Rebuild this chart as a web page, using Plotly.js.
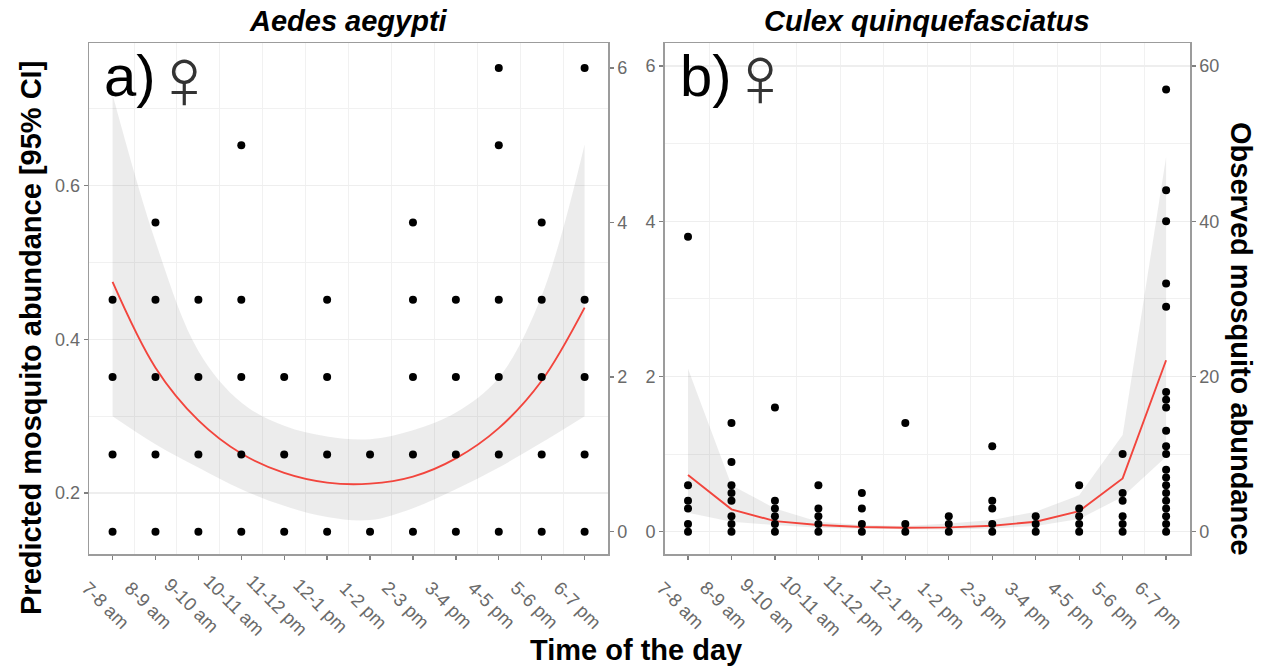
<!DOCTYPE html>
<html>
<head>
<meta charset="utf-8">
<script src="https://cdn.plot.ly/plotly-3.0.1.min.js"></script>
<style>html,body{margin:0;padding:0;background:#fff}#chart{width:1266px;height:667px}</style>
</head>
<body>
<div id="chart"></div>
<script>
const hours = ['7-8 am','8-9 am','9-10 am','10-11 am','11-12 pm','12-1 pm','1-2 pm','2-3 pm','3-4 pm','4-5 pm','5-6 pm','6-7 pm'];

// Panel a: Aedes aegypti
const aedesFit   = [0.4744,0.363,0.2945,0.2514,0.2262,0.2136,0.2123,0.2215,0.2452,0.2845,0.346,0.441];
const aedesUpper = [0.718,0.5268,0.3848,0.3177,0.2874,0.2735,0.27,0.2818,0.3047,0.35,0.4565,0.653];
const aedesLower = [0.3,0.2636,0.2333,0.205,0.1835,0.169,0.165,0.1805,0.205,0.2333,0.2657,0.3];
const aedesObserved = [[0,1,2,3],[0,1,2,3,4],[0,1,2,3],[0,1,2,3,5],[0,1,2],[0,1,2,3],[0,1],[0,1,2,3,4],[0,1,2,3],[0,1,2,3,5,6],[0,1,2,3,4],[0,1,2,3,6]];

// Panel b: Culex quinquefasciatus
const culexFit   = [0.73,0.288,0.137,0.086,0.06,0.052,0.056,0.077,0.129,0.266,0.687,2.21];
const culexUpper = [2.1,0.6,0.3,0.13,0.086,0.073,0.107,0.15,0.258,0.47,1.245,4.83];
const culexLower = [0.245,0.13,0.086,0.05,0.039,0.03,0.03,0.043,0.073,0.163,0.45,0.966];
const culexObserved = [[0,1,3,4,6,38],[0,1,2,4,5,6,9,14],[0,1,2,3,4,16],[0,1,2,3,6],[0,1,3,5],[0,1,14],[0,1,2],[0,1,3,4,11],[0,1,2],[0,1,2,3,6],[0,1,2,4,5,10],[0,1,2,3,4,5,6,7,8,10,11,13,16,17,18,29,32,40,44,57]];

const W = 1266, H = 667;
const idx = hours.map((_, i) => i);
const halves = idx.slice(0, -1).map(i => i + 0.5);
const RED = '#f2453d', RIB = 'rgba(70,70,70,0.1)', GRID = '#eeeeee', BORDER = '#9c9c9c', TXT = '#6a6a6a';
const SANS = '"Liberation Sans", Arial, sans-serif';
const yDom = [(H - 554.3) / H, (H - 43.3) / H];

function expand(obs) {
  const x = [], y = [];
  obs.forEach((vals, i) => vals.forEach(v => { x.push(i); y.push(v); }));
  return {x, y};
}
function panel(lower, upper, fit, obs, xa, yl, yr, shape) {
  const o = expand(obs);
  return [
    {x: idx, y: lower, xaxis: xa, yaxis: yl, mode: 'lines', line: {width: 0, shape: shape, smoothing: 1}, hoverinfo: 'skip', showlegend: false},
    {x: idx, y: upper, xaxis: xa, yaxis: yl, mode: 'lines', line: {width: 0, shape: shape, smoothing: 1}, fill: 'tonexty', fillcolor: RIB, hoverinfo: 'skip', showlegend: false},
    {x: idx, y: fit, xaxis: xa, yaxis: yl, mode: 'lines', line: {color: RED, width: 1.9, shape: shape, smoothing: 1}, showlegend: false},
    {x: o.x, y: o.y, xaxis: xa, yaxis: yr, mode: 'markers', marker: {color: '#000', size: 8}, showlegend: false}
  ];
}
const data = [
  ...panel(aedesLower, aedesUpper, aedesFit, aedesObserved, 'x', 'y', 'y2', 'spline'),
  ...panel(culexLower, culexUpper, culexFit, culexObserved, 'x2', 'y3', 'y4', 'linear')
];

function xAxis(dom, rng, anchor) {
  return {domain: dom, range: rng, anchor: anchor, tickmode: 'array', tickvals: idx, ticktext: hours.map(() => ''),
    showgrid: false, zeroline: false, showline: true, mirror: true, linecolor: BORDER, linewidth: 1.6,
    ticks: 'outside', ticklen: 4, tickwidth: 1.3, tickcolor: '#808080',
    minor: {tickmode: 'array', tickvals: halves, showgrid: true, gridcolor: '#f1f1f1', gridwidth: 1, ticks: ''}};
}
function yAxisLeft(rng, anchor, major, minorVals, text) {
  return {domain: yDom, range: rng, anchor: anchor, side: 'left', tickmode: 'array', tickvals: major, ticktext: text,
    showgrid: true, gridcolor: GRID, gridwidth: 1.4, zeroline: false, showline: true, linecolor: BORDER, linewidth: 1.6,
    ticks: 'outside', ticklen: 4, tickwidth: 1.3, tickcolor: '#808080', tickfont: {family: SANS, size: 18, color: TXT},
    minor: {tickmode: 'array', tickvals: minorVals, showgrid: true, gridcolor: '#f1f1f1', gridwidth: 1.1, ticks: ''}};
}
function yAxisRight(rng, anchor, over, major) {
  return {domain: yDom, range: rng, anchor: anchor, overlaying: over, side: 'right', tickmode: 'array', tickvals: major,
    showgrid: false, zeroline: false, showline: true, linecolor: BORDER, linewidth: 1.6,
    ticks: 'outside', ticklen: 4, tickwidth: 1.3, tickcolor: '#808080', tickfont: {family: SANS, size: 18, color: TXT}};
}

const annotations = [];
function txt(text, x, y, size, opts) {
  annotations.push(Object.assign({text: text, x: x / W, y: 1 - y / H, xref: 'paper', yref: 'paper', showarrow: false,
    xanchor: 'center', yanchor: 'middle', font: {family: SANS, size: size, color: '#000'}}, opts || {}));
}
hours.forEach((h, i) => {
  [['x', -6.5], ['x2', -7]].forEach(([xr, shift]) => {
    annotations.push({text: h, x: i, xref: xr, y: 1 - 605 / H, yref: 'paper', xshift: shift, showarrow: false,
      textangle: 45, xanchor: 'center', yanchor: 'middle', font: {family: SANS, size: 18.5, color: TXT}});
  });
});
txt('<b><i>Aedes aegypti</i></b>', 348, 21, 29);
txt('<b><i>Culex quinquefasciatus</i></b>', 927, 21, 29);
txt('<b>Time of the day</b>', 636, 650, 29);
txt('<b>Predicted mosquito abundance [95% CI]</b>', 31, 338, 29, {textangle: -90});
txt('<b>Observed mosquito abundance</b>', 1241, 338, 29, {textangle: 90});
txt('a)', 130, 76, 58);
txt('b)', 706, 75, 58);
const symFont = {family: '"DejaVu Sans Light"', weight: 200, size: 88, color: '#333'};
txt('♀', 184, 78, symFont.size, {font: symFont});
txt('♀', 760, 77, symFont.size, {font: symFont});

const layout = {
  width: W, height: H, margin: {l: 0, r: 0, t: 0, b: 0}, paper_bgcolor: '#fff', plot_bgcolor: '#fff', showlegend: false,
  xaxis: xAxis([89.3 / W, 608 / W], [-0.542, 11.545], 'y'),
  yaxis: yAxisLeft([0.1205, 0.7845], 'x', [0.2, 0.4, 0.6], [0.3, 0.5, 0.7], ['0.2', '0.4', '0.6']),
  yaxis2: yAxisRight([-0.293, 6.32], 'x', 'y', [0, 2, 4, 6]),
  xaxis2: xAxis([664.8 / W, 1190 / W], [-0.534, 11.55], 'y3'),
  yaxis3: yAxisLeft([-0.291, 6.294], 'x2', [0, 2, 4, 6], [1, 3, 5], ['0', '2', '4', '6']),
  yaxis4: yAxisRight([-2.91, 62.94], 'x2', 'y3', [0, 20, 40, 60]),
  annotations: annotations
};
Plotly.newPlot('chart', data, layout, {staticPlot: true, displayModeBar: false});
</script>
</body>
</html>
